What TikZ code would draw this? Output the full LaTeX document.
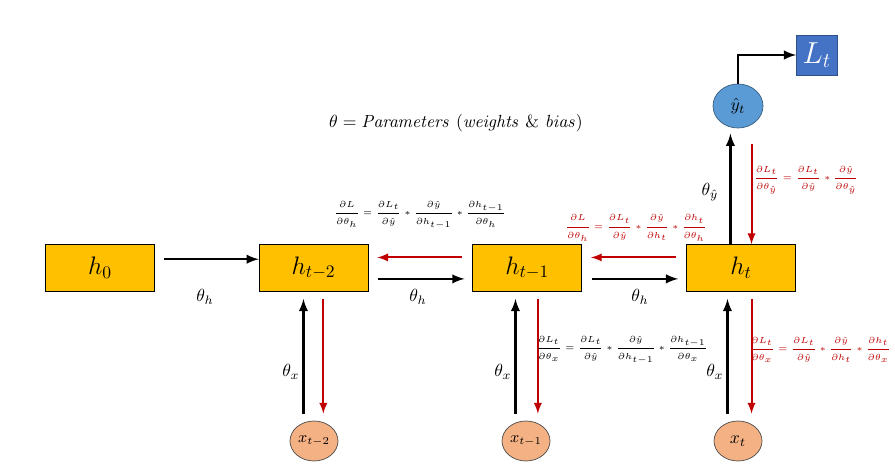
\documentclass[tikz,border=0pt]{standalone}
\usepackage{amsmath}
\usetikzlibrary{positioning}
\usetikzlibrary{shapes.geometric}
\definecolor{boxyellow}{HTML}{FFC000}
\definecolor{nodeorange}{HTML}{F4B183}
\definecolor{nodeblue}{HTML}{5B9BD5}
\definecolor{lossblue}{HTML}{4472C4}
\definecolor{gradred}{HTML}{C00000}
\tikzset{hidden/.style={draw=black, fill=boxyellow, minimum width=2.18cm, minimum height=0.94cm, font=\Large},
        input/.style={ellipse, draw=black!70, fill=nodeorange, minimum width=0.96cm, minimum height=0.8cm, inner sep=0pt, font=\small},
        output/.style={ellipse, draw=nodeblue!60!black, fill=nodeblue, minimum width=1cm, minimum height=0.88cm, inner sep=0pt},
        fwd/.style={-latex, line width=1.4pt, black},
        bwd/.style={-latex, line width=1.1pt, gradred},
        grad/.style={font=\tiny, inner sep=1pt},
}
\begin{document}
\begin{tikzpicture}[x=0.02cm, y=-0.02cm]
      \useasboundingbox (0,0) rectangle (895,472);
      % HIDDEN STATES
      \node[hidden] (h0) at (100,268) {$h_0$};
      \node[hidden, right=2.08cm of h0] (h2) {$h_{t-2}$};
      \node[hidden, right=2.08cm of h2] (h1) {$h_{t-1}$};
      \node[hidden, right=2.08cm of h1] (ht) {$h_t$};
      % INPUTS AND OUTPUT
      \node[input] (x2) at (314,441) {$x_{t-2}$};
      \node[input] (x1) at (526,441) {$x_{t-1}$};
      \node[input, font=\normalsize] (xt) at (738,441) {$x_t$};
      \node[output] (yt) at (738,106) {$\hat{y}_t$};
      \node[draw=lossblue!70!black, fill=lossblue, text=white, minimum width=0.82cm, minimum height=0.8cm, font=\LARGE] (Lt) at (817,55) {$L_t$};
      \node (params) at (456,123) {$\theta = \mathit{Parameters}\ (\mathit{weights}\ \&\ \mathit{bias})$};

      % FORWARD
      \draw[fwd] ([xshift=5pt,yshift=5pt]h0.east) -- ([yshift=5pt]h2.west);
      \draw[fwd] ([xshift=5.5pt,yshift=-6.2pt]h2.east) -- ([xshift=-4.5pt,yshift=-6.2pt]h1.west);
      \draw[fwd] ([xshift=5.5pt,yshift=-6.2pt]h1.east) -- ([xshift=-4.5pt,yshift=-6.2pt]ht.west);
      \draw[fwd] ([xshift=-6pt,yshift=4pt]x2.north) -- ([xshift=-6pt,yshift=-4pt]x2.north |- h2.south);
      \draw[fwd] ([xshift=-6pt,yshift=4pt]x1.north) -- ([xshift=-6pt,yshift=-4pt]x1.north |- h1.south);
      \draw[fwd] ([xshift=-6pt,yshift=4pt]xt.north) -- ([xshift=-6pt,yshift=-4pt]xt.north |- ht.south);
      \draw[fwd] ([xshift=-6pt]ht.north) -- ([xshift=-6pt,yshift=-3pt]ht.north |- yt.south);
      \draw[fwd] (yt.north) |- (Lt.west);

      % BACKWARD
      \draw[bwd] ([xshift=-6pt,yshift=6pt]ht.west) -- ([xshift=5pt,yshift=6pt]h1.east);
      \draw[bwd] ([xshift=-6pt,yshift=6pt]h1.west) -- ([xshift=5pt,yshift=6pt]h2.east);
      \draw[bwd] ([xshift=6pt,yshift=-9pt]ht.north |- yt.south) -- ([xshift=6pt]ht.north);
      \draw[bwd] ([xshift=5.5pt,yshift=-4pt]h2.south) -- ([xshift=5.5pt,yshift=4pt]h2.south |- x2.north);
      \draw[bwd] ([xshift=6pt,yshift=-4pt]h1.south) -- ([xshift=6pt,yshift=4pt]h1.south |- x1.north);
      \draw[bwd] ([xshift=6pt,yshift=-4pt]ht.south) -- ([xshift=6pt,yshift=4pt]ht.south |- xt.north);

      % LABELS
      \node (th0) at (205,297) {$\theta_h$};
      \node (th1) at (418,297) {$\theta_h$};
      \node (th2) at (640,297) {$\theta_h$};
      \node (tx2) at (291,372) {$\theta_x$};
      \node (tx1) at (503,372) {$\theta_x$};
      \node (txt) at (715,372) {$\theta_x$};
      \node (ty) at (710,192) {$\theta_{\hat{y}}$};
      \node[grad] (g1) at (420,215) {$\displaystyle\frac{\partial L}{\partial\theta_h}=\frac{\partial L_t}{\partial\hat{y}}*\frac{\partial\hat{y}}{\partial h_{t-1}}*\frac{\partial h_{t-1}}{\partial\theta_h}$};
      \node[grad, text=gradred] (g2) at (636,228) {$\displaystyle\frac{\partial L}{\partial\theta_h}=\frac{\partial L_t}{\partial\hat{y}}*\frac{\partial\hat{y}}{\partial h_t}*\frac{\partial h_t}{\partial\theta_h}$};
      \node[grad, text=gradred] (g3) at (806,180) {$\displaystyle\frac{\partial L_t}{\partial\theta_{\hat{y}}}=\frac{\partial L_t}{\partial\hat{y}}*\frac{\partial\hat{y}}{\partial\theta_{\hat{y}}}$};
      \node[grad] (g4) at (622,350) {$\displaystyle\frac{\partial L_t}{\partial\theta_x}=\frac{\partial L_t}{\partial\hat{y}}*\frac{\partial\hat{y}}{\partial h_{t-1}}*\frac{\partial h_{t-1}}{\partial\theta_x}$};
      \node[grad, text=gradred] (g5) at (820,350) {$\displaystyle\frac{\partial L_t}{\partial\theta_x}=\frac{\partial L_t}{\partial\hat{y}}*\frac{\partial\hat{y}}{\partial h_t}*\frac{\partial h_t}{\partial\theta_x}$};
\end{tikzpicture}
\end{document}
